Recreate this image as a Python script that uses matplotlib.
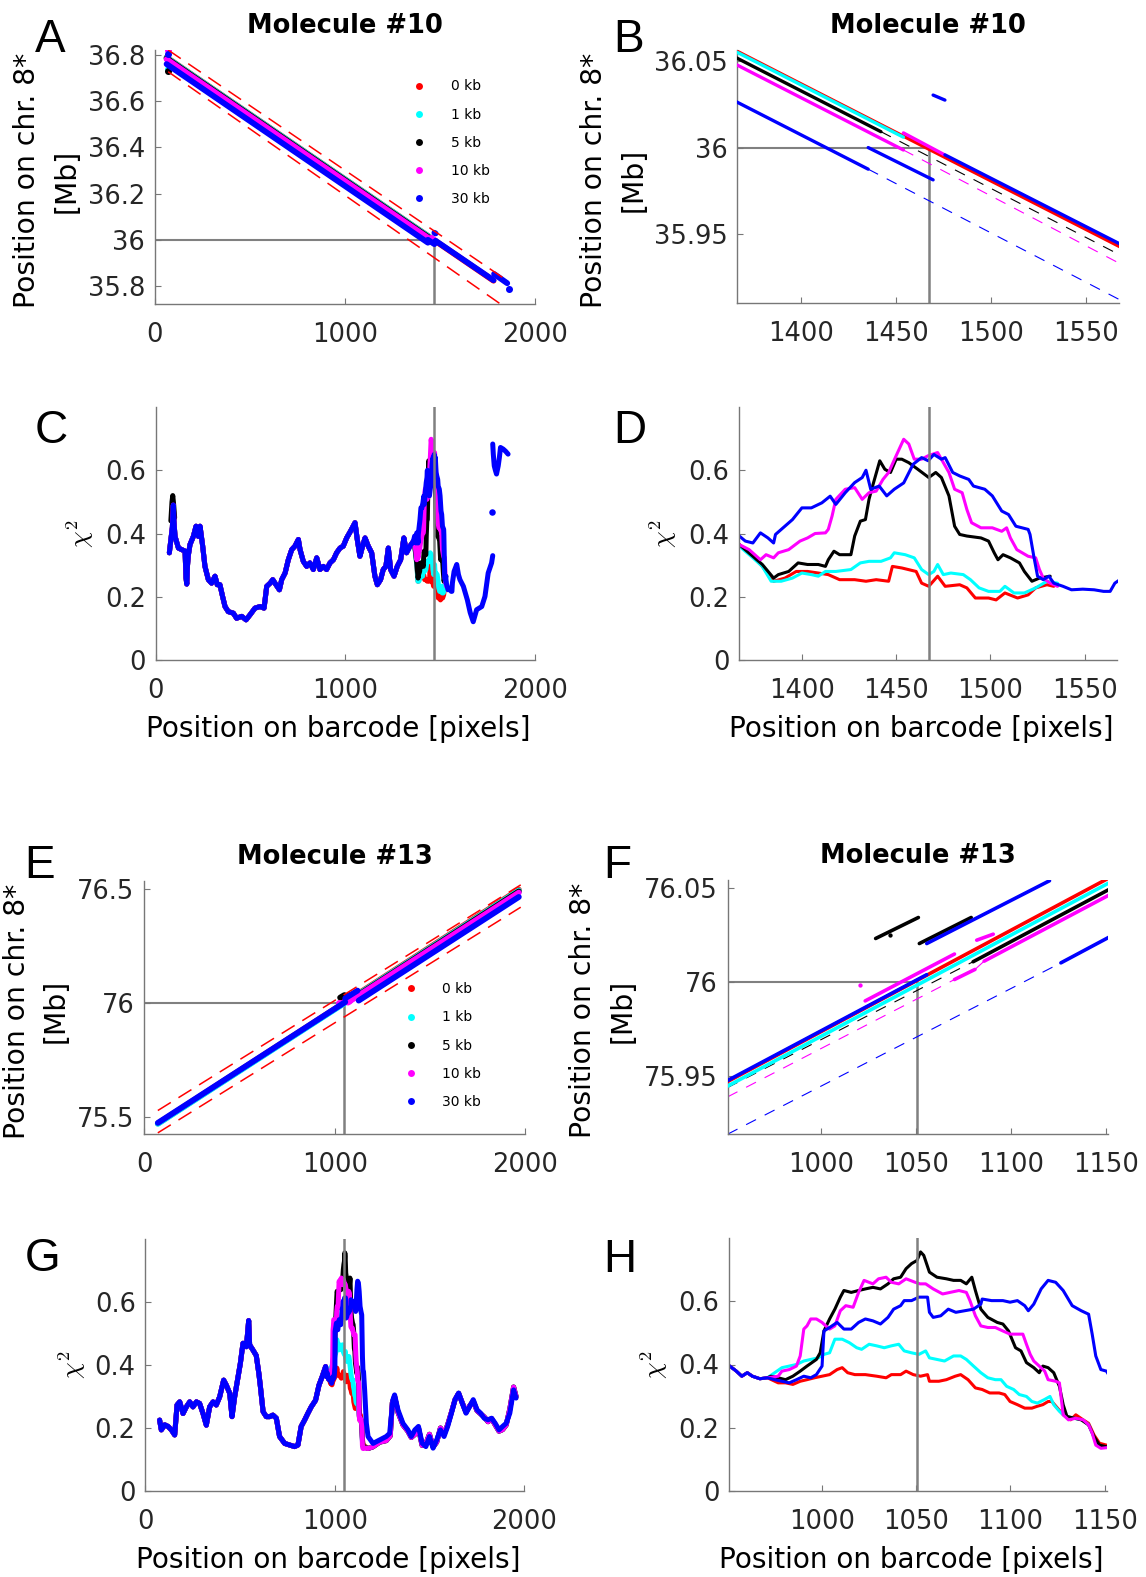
import numpy as np
import matplotlib.pyplot as plt
from matplotlib.lines import Line2D
from matplotlib.ticker import FuncFormatter

plt.rcParams['font.family'] = 'DejaVu Sans'
plt.rcParams['mathtext.fontset'] = 'cm'
plt.rcParams['lines.scale_dashes'] = False

W, H = 1146, 1577

SERIES = ['0 kb', '1 kb', '5 kb', '10 kb', '30 kb']
COLORS = ['#ff0000', '#00ffff', '#000000', '#ff00ff', '#0000ff']
GREY = '#808080'

# breakpoint (barcode pixel, chromosome position in Mb)
M10_REF = (1467.5, 36.0)
M13_REF = (1050.5, 76.0)

# ---- molecule 10: fitted positions, (series, x0, y0, x1, y1) ----
M10_FIT_SOLID = [
    (0, 63, 36.790, 1780, 35.823),
    (1, 63, 36.789, 1454, 36.006),
    (2, 63, 36.786, 1442.2, 36.0092),
    (3, 63, 36.782, 1454, 35.9986),
    (3, 1454, 36.0085, 1475.3, 35.996),
    (4, 63, 36.761, 1435.5, 35.9875),
    (4, 1435.5, 36.0, 1469.6, 35.9813),
    (4, 1469.6, 36.0304, 1475.8, 36.0275),
    (4, 1475.8, 35.9958, 1780, 35.825),
    (4, 1783, 35.852, 1852, 35.812),
]
M10_FIT_DASHED = [
    (2, 1442.2, 36.0092, 1567.4, 35.938),
    (3, 1454, 35.9986, 1567.4, 35.933),
    (4, 1435.5, 35.9875, 1567.4, 35.912),
]
M10_FIT_DOTS = [(1, 70, 36.74), (2, 70, 36.78), (2, 70, 36.73),
                (3, 70, 36.82), (4, 72, 36.805), (4, 1860, 35.785)]
M10_BOUNDS = [(71, 36.822, 1865, 35.816), (71, 36.728, 1865, 35.694)]

# ---- molecule 13: fitted positions ----
M13_FIT_SOLID = [
    (0, 71, 75.471, 1967, 76.497),
    (1, 71, 75.4695, 1967, 76.4935),
    (2, 1079.8, 76.0109, 1967, 76.489),
    (2, 1028.5, 76.0233, 1051, 76.0345),
    (2, 1051.5, 76.0206, 1078.8, 76.0345),
    (3, 1023, 75.990, 1070, 76.015),
    (3, 1081.7, 76.0224, 1090.4, 76.0256),
    (3, 1070, 76.0014, 1080.8, 76.0068),
    (3, 1085.6, 76.0112, 1967, 76.484),
    (4, 71, 75.4736, 1055.4, 76.004),
    (4, 1055.4, 76.0206, 1120, 76.0541),
    (4, 1126, 76.0103, 1967, 76.465),
]
M13_FIT_DASHED = [
    (2, 950.6, 75.9438, 1079.8, 76.0109),
    (3, 950.6, 75.9388, 1070, 76.0014),
    (3, 1080.8, 76.0068, 1085.6, 76.0112),
    (4, 950.6, 75.9189, 1126, 76.0103),
]
M13_FIT_DOTS = [(2, 1036, 76.025), (3, 1020.2, 75.9984)]
M13_BOUNDS = [(71, 75.528, 1977, 76.518), (71, 75.430, 1977, 76.420)]

# ---- molecule 10: chi^2 ----
M10_SHARED = [(72, .339), (80, .38), (88, .42), (93, .49), (96, .44), (102, .391),
              (120, .354), (137, .349), (155, .344), (160, .26), (164, .24), (168, .30),
              (172, .33), (181, .365), (199, .391), (213, .423), (225, .391), (234, .423),
              (248, .36), (260, .296), (278, .254), (295, .243), (313, .265), (325, .238),
              (339, .238), (353, .201), (366, .169), (383, .153), (410, .148), (427, .132),
              (454, .138), (477, .127), (498, .143), (524, .164), (551, .169), (572, .164),
              (586, .233), (604, .243), (618, .254), (635, .238), (653, .222), (665, .254),
              (683, .275), (700, .317), (718, .349), (735, .36), (753, .381), (762, .349),
              (779, .312), (797, .296), (814, .307), (832, .286), (850, .323), (867, .286),
              (885, .296), (902, .286), (920, .307), (938, .317), (955, .339), (973, .354),
              (990, .36), (1008, .386), (1029, .408), (1052, .434), (1064, .381), (1078, .328),
              (1092, .36), (1105, .386), (1122, .36), (1140, .339), (1157, .265), (1170, .238),
              (1187, .254), (1201, .286), (1215, .296), (1228, .354), (1240, .286), (1258, .265),
              (1275, .296), (1293, .317), (1310, .386), (1324, .339), (1342, .36), (1360, .375)]
M10_BLACK_START = [(80, .44), (86, .50), (90, .52), (95, .49), (100, .45)]
M10_RED = [(1366.8, .365), (1374, .328), (1379, .296), (1385, .249), (1391, .259), (1397, .28),
           (1403, .28), (1408.7, .275), (1414, .27), (1420, .254), (1428, .254), (1434, .249),
           (1439.4, .254), (1446, .249), (1448, .296), (1453, .291), (1460.6, .28), (1463.5, .243),
           (1467.3, .233), (1472, .265), (1476, .233), (1483.7, .238), (1487.5, .228), (1492, .196),
           (1499, .196), (1503, .19), (1507.7, .212), (1514.4, .196), (1520, .206), (1524, .228),
           (1530, .238), (1533.6, .233)]
M10_CYAN = [(1366.8, .36), (1374, .323), (1379, .296), (1383.7, .249), (1389, .249), (1395, .259),
            (1400, .275), (1405, .27), (1408.7, .265), (1412.5, .28), (1418, .28), (1426, .286),
            (1431, .307), (1435.6, .312), (1442, .312), (1447, .323), (1449, .339), (1454.8, .333),
            (1459.6, .323), (1463.5, .286), (1467.3, .27), (1470, .28), (1472, .302), (1475, .27),
            (1479, .275), (1485.6, .27), (1489.4, .254), (1494, .228), (1499, .217), (1505, .217),
            (1507.7, .233), (1512.5, .212), (1518, .212), (1524, .228), (1530, .249), (1535.6, .243)]
M10_BLACK = [(1366.8, .365), (1374, .328), (1379, .302), (1385, .259), (1387.5, .27), (1393, .28),
             (1398, .307), (1403, .302), (1408.7, .302), (1412.5, .296), (1414, .317), (1417, .344),
             (1420, .333), (1426, .333), (1428, .392), (1431, .439), (1433.7, .444), (1435.6, .508),
             (1437.5, .55), (1441.3, .63), (1444, .603), (1447, .593), (1450, .635), (1453, .635),
             (1456.7, .624), (1461.5, .603), (1467.3, .577), (1471, .593), (1474, .577), (1478, .519),
             (1481, .423), (1483.7, .397), (1487.5, .392), (1495, .386), (1499, .376), (1502, .339),
             (1504, .317), (1506.7, .333), (1510.6, .323), (1515.4, .307), (1518, .28), (1522, .249),
             (1526, .259), (1531.7, .265)]
M10_MAGENTA = [(1366.8, .365), (1372, .349), (1378, .317), (1381, .333), (1385, .323), (1387.5, .339),
               (1393, .349), (1399, .376), (1403, .386), (1407, .4), (1412.5, .402), (1414, .413),
               (1416, .455), (1418, .508), (1423, .54), (1428, .545), (1432, .508), (1435.6, .529),
               (1439.4, .534), (1443, .571), (1446, .593), (1450, .646), (1454, .698), (1456.7, .683),
               (1459.6, .635), (1463.5, .635), (1467, .646), (1472, .656), (1474, .635), (1478, .593),
               (1481, .54), (1485, .529), (1487.5, .476), (1490, .434), (1495, .418), (1501, .418),
               (1506, .407), (1508.6, .418), (1510.6, .386), (1514, .349), (1520, .328), (1524, .323),
               (1526, .286), (1528, .259), (1531.7, .243), (1535.6, .233)]
M10_BLUE = [(1366.8, .392), (1370, .376), (1374, .37), (1378, .402), (1382, .386), (1385, .37),
            (1386, .397), (1395, .444), (1400, .481), (1405, .481), (1410.6, .497), (1415, .518),
            (1418, .492), (1423, .529), (1428, .561), (1432, .577), (1434, .6), (1436.5, .54),
            (1441, .55), (1445, .519), (1449, .54), (1454, .56), (1459, .619), (1463.5, .64),
            (1467, .63), (1470, .65), (1474, .635), (1476, .64), (1480, .593), (1483.7, .582),
            (1488.5, .571), (1491, .55), (1497, .54), (1501, .519), (1506, .471), (1509.6, .46),
            (1513.5, .423), (1520, .413), (1521, .397), (1523, .328), (1525, .265), (1528, .254),
            (1531, .265), (1533.6, .243), (1538.5, .233), (1543, .222), (1549, .224), (1555, .222),
            (1560, .217), (1563.5, .217), (1566, .243)]
M10_BLUE_TAIL = [(1566, .243), (1575, .28), (1589, .302), (1598, .27), (1606, .254), (1624, .233),
                 (1645, .19), (1660, .15), (1676, .121), (1694, .159), (1721, .169), (1738, .201),
                 (1755, .275), (1773, .307), (1779, .33)]
M10_BLUE_LONE = [(1777, .469)]
M10_BLUE_FAR = [(1779, .683), (1782, .651), (1787, .614), (1793, .6), (1799, .588), (1808, .614),
                (1814, .64), (1820, .672), (1834, .667), (1847, .66), (1860, .651)]

# ---- molecule 13: chi^2 ----
M13_SHARED = [(75, .225), (84, .194), (102, .21), (119.5, .205), (137, .194), (154.5, .178),
              (167, .273), (181, .283), (198.5, .246), (216, .267), (234, .283), (251, .267),
              (269, .283), (286, .278), (304, .246), (321.5, .209), (339, .267), (357, .283),
              (374, .273), (392, .299), (413, .352), (427, .336), (445, .31), (457, .236),
              (471, .299), (489, .363), (501, .405), (515, .469), (533, .458), (545, .541),
              (550, .464), (568, .447), (585, .43), (599, .372), (607, .331), (621, .252),
              (638, .236), (656, .236), (673, .241), (691, .231), (708, .173), (735, .151),
              (761, .146), (787, .141), (805, .146), (822, .205), (840, .225), (857, .246),
              (875, .267), (898, .288), (916, .336), (933, .363), (951, .395), (954.5, .379),
              (957.4, .363), (960.3, .374), (963, .363), (967, .355), (971, .358)]
M13_RED = [(976.7, .342), (980.6, .342), (984.5, .337), (988.4, .347), (992, .352), (996, .358),
           (1000, .363), (1004, .368), (1008, .384), (1010.7, .39), (1013.6, .374), (1017.4, .368),
           (1023, .368), (1029, .363), (1034, .358), (1036.8, .368), (1041.7, .368), (1044.6, .379),
           (1048.4, .368), (1052.3, .363), (1056, .368), (1057, .347), (1062, .347), (1066, .352),
           (1070.7, .363), (1073.6, .368), (1077.5, .352), (1081.4, .326), (1085, .321), (1089, .31),
           (1094, .31), (1097, .305), (1099.8, .283), (1103.7, .273), (1107.6, .262), (1111.4, .262),
           (1114.3, .268), (1117.2, .273), (1120, .283), (1122, .283), (1125, .262), (1128, .241),
           (1132, .225), (1134.7, .241), (1138.6, .225), (1141.5, .214), (1144.4, .177),
           (1147.3, .151), (1151, .145)]
M13_CYAN = [(978.7, .39), (982.6, .395), (986.4, .4), (990.3, .411), (994, .416), (998, .421),
            (1001, .432), (1004, .437), (1006.8, .48), (1010.7, .48), (1014.5, .469), (1018.4, .453),
            (1021, .448), (1025, .464), (1029, .459), (1033, .453), (1036.8, .459), (1040.7, .464),
            (1043.6, .443), (1047.5, .437), (1051.4, .432), (1055, .443), (1057, .421), (1061, .416),
            (1065, .411), (1069.8, .427), (1073.6, .427), (1076.6, .416), (1080.4, .395),
            (1084.3, .374), (1088, .358), (1092, .352), (1095, .352), (1098, .331), (1101.7, .321),
            (1104.7, .305), (1108.5, .299), (1111.4, .283), (1114.3, .278), (1118, .289),
            (1121, .299), (1123, .273), (1126, .252), (1129, .236), (1134, .23), (1138, .225),
            (1141.5, .21), (1145, .16), (1148, .14), (1151, .14)]
M13_BLACK = [(972.9, .363), (976.7, .358), (980.6, .352), (984.5, .363), (988.4, .379), (992, .395),
             (997, .416), (999, .437), (1001, .506), (1004, .544), (1006.8, .575), (1009.7, .613),
             (1011.6, .634), (1015.5, .628), (1019.4, .634), (1023, .639), (1027, .644), (1031, .639),
             (1035, .655), (1038, .671), (1041.7, .676), (1044.6, .703), (1047.5, .719),
             (1050.4, .729), (1052.3, .756), (1054, .745), (1057, .692), (1061, .676), (1066, .671),
             (1069.8, .666), (1073.6, .666), (1076.6, .655), (1079.5, .676), (1081.4, .634),
             (1084.3, .575), (1088, .549), (1093, .533), (1096, .528), (1099, .506), (1102.7, .453),
             (1105.6, .443), (1108.5, .406), (1112.4, .39), (1115.3, .374), (1117.2, .395),
             (1120, .39), (1123, .374), (1126, .331), (1128, .273), (1130, .236), (1134, .23),
             (1137.6, .225), (1141.5, .209), (1144.4, .172), (1147.3, .145), (1151, .14)]
M13_MAGENTA = [(976.7, .363), (978.7, .379), (982.6, .384), (986.4, .395), (988.4, .427),
               (990.3, .512), (992, .522), (994, .544), (997, .544), (1000, .533), (1002, .522),
               (1004, .512), (1006.8, .522), (1009.7, .57), (1012.6, .586), (1016.5, .581),
               (1019.4, .628), (1022.3, .666), (1027, .655), (1030, .671), (1034, .676),
               (1036.8, .66), (1040.7, .655), (1044.6, .671), (1049.4, .66), (1052, .655),
               (1055, .655), (1059, .639), (1064, .623), (1068, .628), (1072.7, .634),
               (1076.6, .628), (1078.5, .602), (1081.4, .554), (1084.3, .522), (1088, .517),
               (1092, .517), (1096, .506), (1099.8, .496), (1103.7, .496), (1106.6, .496),
               (1108.5, .464), (1110.5, .432), (1112.4, .411), (1115.3, .395), (1118.2, .379),
               (1120, .352), (1124, .347), (1126, .342), (1128, .241), (1130.8, .225),
               (1134.7, .23), (1138.6, .225), (1141.5, .209), (1143.4, .183), (1145.3, .145),
               (1148, .135), (1151, .137)]
M13_BLUE = [(974.8, .352), (978.7, .347), (982.6, .342), (986.4, .352), (990.3, .363),
            (994, .358), (997, .368), (1000, .395), (1001, .506), (1004, .517), (1008, .533),
            (1011.6, .512), (1015.5, .512), (1019.4, .533), (1023, .544), (1027, .538), (1031, .528),
            (1035, .549), (1038, .575), (1041.7, .586), (1043.6, .602), (1047.5, .602),
            (1051.4, .613), (1056, .613), (1057, .565), (1059, .549), (1063, .554), (1067, .575),
            (1071, .565), (1075.6, .57), (1080.4, .575), (1084.3, .591), (1085, .607), (1090, .602),
            (1096, .602), (1099.8, .597), (1103.7, .602), (1107.6, .586), (1109.5, .57),
            (1112.4, .591), (1116.3, .639), (1120, .666), (1124, .66), (1128, .634), (1132.8, .586),
            (1137.6, .57), (1141.5, .559), (1143.4, .496), (1145.3, .427), (1148, .384), (1151, .379)]
M13_BLUE_TAIL = [(1157, .32), (1166, .215), (1175, .173), (1201, .151), (1236, .162),
                 (1271, .173), (1289, .183), (1306, .289), (1315, .305), (1333, .257), (1359, .215),
                 (1385, .194), (1403, .173), (1422, .194), (1441, .205), (1460, .152), (1480, .141),
                 (1499, .173), (1518, .136), (1537, .162), (1557, .194), (1576, .173), (1595, .205),
                 (1615, .247), (1634, .29), (1653, .311), (1672, .279), (1692, .247), (1711, .268),
                 (1730, .29), (1750, .258), (1769, .247), (1788, .231), (1808, .226), (1827, .231),
                 (1846, .215), (1866, .194), (1885, .205), (1904, .215), (1923, .247), (1943, .321),
                 (1956, .295)]
M13_OTHER_TAIL = [(1175, .135), (1200, .14), (1236, .155), (1271, .16), (1292, .175),
                  (1303, .28), (1315, .30), (1333, .25), (1359, .21), (1385, .19), (1403, .17),
                  (1422, .18), (1441, .20), (1460, .145), (1480, .15), (1499, .18), (1518, .14),
                  (1537, .155), (1557, .20), (1576, .18), (1595, .21), (1615, .25), (1634, .29),
                  (1653, .31), (1672, .28), (1692, .25), (1711, .27), (1730, .285), (1750, .255),
                  (1769, .245), (1788, .235), (1808, .22), (1827, .23), (1846, .21), (1866, .19),
                  (1885, .195), (1904, .21), (1923, .26), (1943, .33), (1956, .30)]


def xy(points):
    arr = np.array(points, dtype=float)
    return arr[:, 0], arr[:, 1]


def px_axes(fig, left, right, top, bottom):
    return fig.add_axes([left / W, 1 - bottom / H, (right - left) / W, (bottom - top) / H])


def style_axes(ax, xlim, ylim, xticks, yticks):
    ax.set_xlim(*xlim)
    ax.set_ylim(*ylim)
    ax.set_xticks(xticks)
    ax.set_yticks(yticks)
    fmt = FuncFormatter(lambda v, p: f'{v:g}')
    ax.xaxis.set_major_formatter(fmt)
    ax.yaxis.set_major_formatter(fmt)
    for side in ['top', 'right']:
        ax.spines[side].set_visible(False)
    for side in ['left', 'bottom']:
        ax.spines[side].set_color('#777777')
        ax.spines[side].set_linewidth(1.0)
    ax.tick_params(direction='in', length=4, width=0.8, color='#777777',
                   labelsize=18.5, labelcolor='#262626')
    ax.tick_params(axis='x', pad=13)
    ax.tick_params(axis='y', pad=7)


def draw_fit(ax, solid, dashed, dots, lw, show_dashed):
    for s in range(5):
        if show_dashed:
            for (k, x0, y0, x1, y1) in dashed:
                if k == s:
                    ax.plot([x0, x1], [y0, y1], color=COLORS[s], lw=0.8, dashes=(8, 7), zorder=2)
        for (k, x0, y0, x1, y1) in solid:
            if k == s:
                ax.plot([x0, x1], [y0, y1], color=COLORS[s], lw=lw,
                        solid_capstyle='round', zorder=3)
        for (k, x, y) in dots:
            if k == s:
                ax.plot([x], [y], 'o', ms=lw * 1.2, color=COLORS[s], mec='none', zorder=3)


def draw_bounds(ax, bounds):
    for (x0, y0, x1, y1) in bounds:
        ax.plot([x0, x1], [y0, y1], color='#ff0000', lw=1.1, dashes=(11, 6.5), zorder=4)


def draw_ref_corner(ax, ref):
    x0, y0 = ax.get_xlim()[0], ax.get_ylim()[0]
    ax.plot([x0, ref[0]], [ref[1], ref[1]], color=GREY, lw=1.5, zorder=1)
    ax.plot([ref[0], ref[0]], [y0, ref[1]], color=GREY, lw=1.8, zorder=1)


def draw_chi(ax, curves, lw):
    for s in range(5):
        for pts in curves[s]:
            x, y = xy(pts)
            style = '-' if len(pts) > 1 else 'o'
            ax.plot(x, y, style, color=COLORS[s], lw=lw, ms=lw * 1.3, mec='none',
                    solid_capstyle='round', solid_joinstyle='round', zorder=2)


def add_legend(ax, anchor):
    handles = [Line2D([], [], ls='none', marker='o', ms=5, color=c, mec='none') for c in COLORS]
    ax.legend(handles, SERIES, loc='upper left', bbox_to_anchor=anchor, frameon=False,
              fontsize=10, handlelength=1.0, handletextpad=1.76, labelspacing=1.02,
              borderpad=0, borderaxespad=0)


def fit_ylabel(ax, x):
    ax.set_ylabel('Position on chr. 8*\n[Mb]', fontsize=20.3, linespacing=1.5)
    ax.yaxis.set_label_coords(x, 0.485)


def chi_ylabel(ax, x):
    ax.set_ylabel(r'$\chi^2$', fontsize=19)
    ax.yaxis.set_label_coords(x, 0.5)


def barcode_xlabel(ax):
    ax.set_xlabel('Position on barcode [pixels]', fontsize=20.1)
    ax.xaxis.set_label_coords(0.482, -0.219)


m10_curves = [
    [M10_SHARED + M10_RED],
    [M10_SHARED + M10_CYAN],
    [M10_SHARED + M10_BLACK, M10_BLACK_START],
    [M10_SHARED + M10_MAGENTA],
    [M10_SHARED + M10_BLUE + M10_BLUE_TAIL, M10_BLUE_LONE, M10_BLUE_FAR],
]
m13_curves = [
    [M13_SHARED + M13_RED + M13_OTHER_TAIL],
    [M13_SHARED + M13_CYAN + M13_OTHER_TAIL],
    [M13_SHARED + M13_BLACK + M13_OTHER_TAIL],
    [M13_SHARED + M13_MAGENTA + M13_OTHER_TAIL],
    [M13_SHARED + M13_BLUE + M13_BLUE_TAIL],
]

fig = plt.figure(figsize=(W / 100, H / 100), dpi=100)

# ---- A ----
axA = px_axes(fig, 154.6, 535.4, 50, 304)
style_axes(axA, (0, 2000), (35.722, 36.822), [0, 1000, 2000], [35.8, 36.0, 36.2, 36.4, 36.6, 36.8])
draw_ref_corner(axA, M10_REF)
draw_fit(axA, M10_FIT_SOLID, M10_FIT_DASHED, M10_FIT_DOTS, 4.2, False)
draw_bounds(axA, M10_BOUNDS)
axA.set_title('Molecule #10', fontsize=18.5, fontweight='bold', pad=12)
fit_ylabel(axA, -0.195)
add_legend(axA, (0.677, 0.884))

# ---- B ----
axB = px_axes(fig, 737.4, 1119.3, 50, 303)
style_axes(axB, (1366.8, 1567.4), (35.910, 36.0565), [1400, 1450, 1500, 1550], [35.95, 36.0, 36.05])
draw_ref_corner(axB, M10_REF)
draw_fit(axB, M10_FIT_SOLID, M10_FIT_DASHED, [], 2.4, True)
axB.set_title('Molecule #10', fontsize=18.5, fontweight='bold', pad=12)
fit_ylabel(axB, -0.236)

# ---- C ----
axC = px_axes(fig, 155.7, 534.6, 407, 660)
style_axes(axC, (0, 2000), (0, 0.8), [0, 1000, 2000], [0, 0.2, 0.4, 0.6])
draw_chi(axC, m10_curves, 3.6)
axC.axvline(M10_REF[0], color=GREY, lw=1.8, zorder=4)
chi_ylabel(axC, -0.158)
barcode_xlabel(axC)

# ---- D ----
axD = px_axes(fig, 739.3, 1117.5, 407, 660)
style_axes(axD, (1366.8, 1567.4), (0, 0.8), [1400, 1450, 1500, 1550], [0, 0.2, 0.4, 0.6])
draw_chi(axD, m10_curves, 2.2)
axD.axvline(M10_REF[0], color=GREY, lw=1.8, zorder=4)
chi_ylabel(axD, -0.159)
barcode_xlabel(axD)

# ---- E ----
axE = px_axes(fig, 144.3, 525.1, 881, 1134)
style_axes(axE, (0, 2000), (75.425, 76.535), [0, 1000, 2000], [75.5, 76.0, 76.5])
draw_ref_corner(axE, M13_REF)
draw_fit(axE, M13_FIT_SOLID, M13_FIT_DASHED, M13_FIT_DOTS, 4.2, False)
draw_bounds(axE, M13_BOUNDS)
axE.set_title('Molecule #13', fontsize=18.5, fontweight='bold', pad=12)
fit_ylabel(axE, -0.196)
add_legend(axE, (0.682, 0.600))

# ---- F ----
axF = px_axes(fig, 727.6, 1108.4, 880, 1134)
style_axes(axF, (950.6, 1151), (75.919, 76.0545), [1000, 1050, 1100, 1150], [75.95, 76.0, 76.05])
draw_ref_corner(axF, M13_REF)
draw_fit(axF, M13_FIT_SOLID, M13_FIT_DASHED, M13_FIT_DOTS, 2.6, True)
axF.set_title('Molecule #13', fontsize=18.5, fontweight='bold', pad=12)
fit_ylabel(axF, -0.24)

# ---- G ----
axG = px_axes(fig, 145.4, 524.4, 1239, 1491)
style_axes(axG, (0, 2000), (0, 0.8), [0, 1000, 2000], [0, 0.2, 0.4, 0.6])
draw_chi(axG, m13_curves, 3.6)
axG.axvline(M13_REF[0], color=GREY, lw=1.8, zorder=4)
chi_ylabel(axG, -0.152)
barcode_xlabel(axG)

# ---- H ----
axH = px_axes(fig, 729, 1106.5, 1238, 1491)
style_axes(axH, (950.6, 1151), (0, 0.8), [1000, 1050, 1100, 1150], [0, 0.2, 0.4, 0.6])
draw_chi(axH, m13_curves, 2.2)
axH.axvline(M13_REF[0], color=GREY, lw=1.8, zorder=4)
chi_ylabel(axH, -0.156)
barcode_xlabel(axH)

# panel letters
for letter, x, base in [('A', 35, 52), ('B', 613, 52), ('C', 35, 443), ('D', 613, 443),
                        ('E', 24, 878), ('F', 603, 878), ('G', 25, 1271), ('H', 603, 1272)]:
    fig.text(x / W, 1 - base / H, letter, fontsize=33, family='Liberation Sans',
             ha='left', va='baseline')

fig.savefig('out.png', dpi=100, facecolor='white')
